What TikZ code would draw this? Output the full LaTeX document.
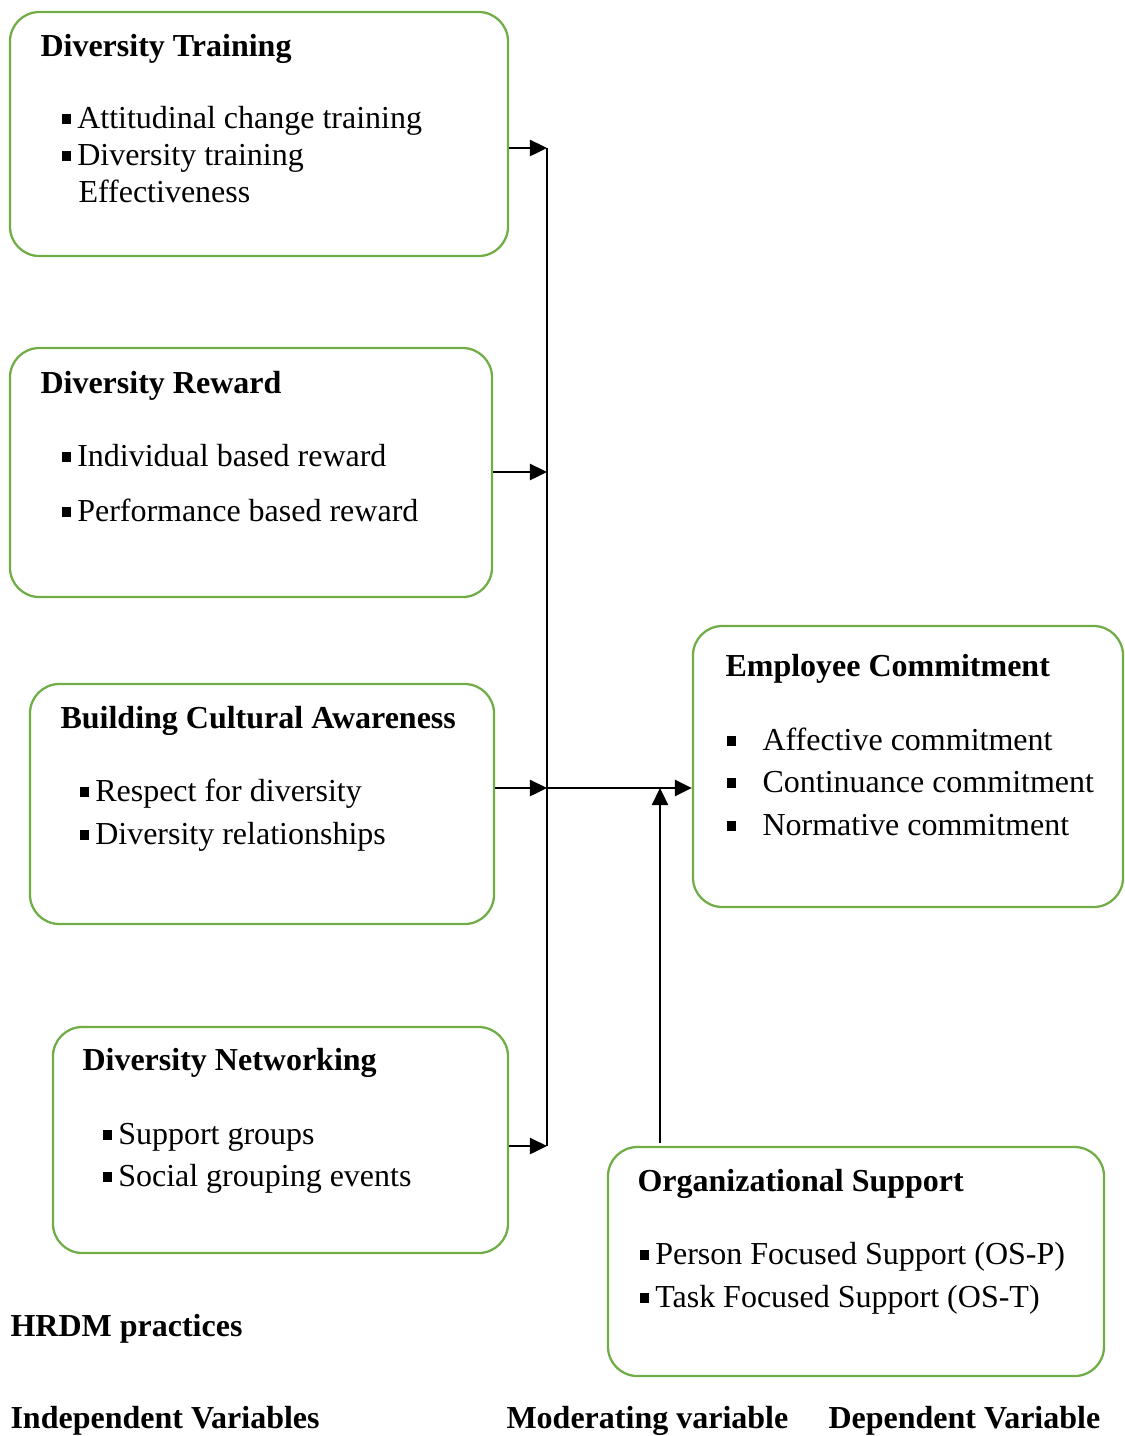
\documentclass[12pt,tikz,border=0pt]{standalone}
\usepackage{fontspec}
\setmainfont{Liberation Serif}
\usetikzlibrary{arrows.meta,fit}
\definecolor{boxgreen}{HTML}{70AD47}
\newcommand\sqitem[1][5.9pt]{\makebox[#1][l]{\rule[0.3ex]{3.6pt}{3.6pt}}}
\tikzset{
  varbox/.style={draw=boxgreen,line width=0.85pt,rounded corners=11pt,inner sep=0pt},
  boxtitle/.style={anchor=base west,inner sep=0pt,font=\bfseries},
  itemtext/.style={anchor=base west,inner sep=0pt},
  link/.style={line width=1pt,-{Triangle[length=6.4pt,width=6pt]}},
  plain/.style={line width=1pt}
}
\begin{document}
\begin{tikzpicture}[x=0.375pt,y=-0.375pt]
\useasboundingbox (0,0) rectangle (1125,1436);
% boxes
\node[varbox,fit={(10,12) (508,256)}] (train) {};
\node[varbox,fit={(10,348) (492,597)}] (reward) {};
\node[varbox,fit={(30,684) (494,924)}] (culture) {};
\node[varbox,fit={(53,1027) (508,1253)}] (network) {};
\node[varbox,fit={(693,626) (1123,907)}] (commit) {};
\node[varbox,fit={(608,1147) (1104,1376)}] (support) {};
% Diversity Training
\node[boxtitle] (trainT) at (40,56) {Diversity Training};
\node[itemtext] (train1) at (61,128) {\sqitem Attitudinal change training};
\node[itemtext] (train2) at (61,165) {\sqitem Diversity training};
\node[itemtext] (train3) at (78,202) {Effectiveness};
% Diversity Reward
\node[boxtitle] (rewardT) at (40,393) {Diversity Reward};
\node[itemtext] (reward1) at (61,466) {\sqitem Individual based reward};
\node[itemtext] (reward2) at (61,521) {\sqitem Performance based reward};
% Building Cultural Awareness
\node[boxtitle] (cultureT) at (60,728) {Building Cultural Awareness};
\node[itemtext] (culture1) at (79,801) {\sqitem Respect for diversity};
\node[itemtext] (culture2) at (79,844) {\sqitem Diversity relationships};
% Diversity Networking
\node[boxtitle] (networkT) at (82,1070) {Diversity Networking};
\node[itemtext] (network1) at (102,1144) {\sqitem Support groups};
\node[itemtext] (network2) at (102,1186) {\sqitem Social grouping events};
% Employee Commitment
\node[boxtitle] (commitT) at (725,676) {Employee Commitment};
\node[itemtext] (commit1) at (726,750) {\sqitem[13.5pt]Affective commitment};
\node[itemtext] (commit2) at (726,792) {\sqitem[13.5pt]Continuance commitment};
\node[itemtext] (commit3) at (726,835) {\sqitem[13.5pt]Normative commitment};
% Organizational Support
\node[boxtitle] (supportT) at (637,1191) {Organizational Support};
\node[itemtext] (support1) at (639,1264) {\sqitem Person Focused Support (OS-P)};
\node[itemtext] (support2) at (639,1307) {\sqitem Task Focused Support (OS-T)};
% captions
\node[boxtitle] (hrdm) at (10,1336) {HRDM practices};
\node[boxtitle] (indep) at (10,1428) {Independent Variables};
\node[boxtitle] (moder) at (506,1428) {Moderating variable};
\node[boxtitle] (dep) at (828,1428) {Dependent Variable};
% connectors
\coordinate (j1) at (547,148);
\coordinate (j2) at (547,472);
\coordinate (j3) at (547,788);
\coordinate (j4) at (547,1146);
\coordinate (m) at (660,788);
\draw[plain] (j1) -- (j4);
\draw[link] (train.east |- j1) -- (j1);
\draw[link] (reward.east |- j2) -- (j2);
\draw[link] (culture.east |- j3) -- (j3);
\draw[link] (network.east |- j4) -- (j4);
\draw[link] (j3) -- (commit.west |- j3);
\draw[link] ([yshift=1pt]support.north -| m) -- (m);
\end{tikzpicture}
\end{document}
